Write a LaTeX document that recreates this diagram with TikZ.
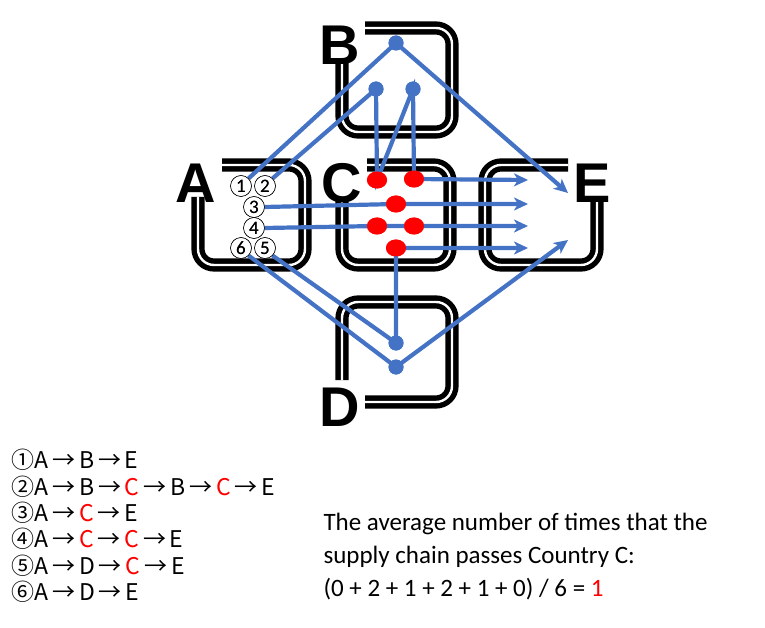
\documentclass[tikz,border=0pt]{standalone}
\usepackage{fontspec}
\setmainfont{Carlito}
\newfontfamily\jpfont{Noto Sans CJK JP}
\newfontfamily\bigfont{Liberation Sans}
\usetikzlibrary{arrows.meta,shapes.geometric}
\definecolor{route}{RGB}{68,114,196}
\newcommand{\ra}{\,→\,}
\newcommand{\rc}{\textcolor{red}{C}}
\begin{document}
\begin{tikzpicture}[x=1pt,y=-1pt,
  frame/.style={double=white,draw=black,line width=5.4pt,double distance=2.4pt,rounded corners=16pt},
  country/.style={font=\bigfont\bfseries\fontsize{56}{56}\selectfont},
  route/.style={draw=route,line width=4.2pt},
  flow/.style={route,-{Stealth[length=14pt,width=13pt,inset=4pt]}},
  stop/.style={circle,fill=route,inner sep=0pt,minimum size=15pt},
  hub/.style={ellipse,fill=red,inner sep=0pt,minimum width=20pt,minimum height=17pt},
  tag/.style={circle,draw,thin,fill=white,inner sep=0pt,minimum size=21pt,font=\fontsize{19}{19}\selectfont},
  legend/.style={anchor=west,font=\jpfont\fontsize{23}{23}\selectfont}]
\useasboundingbox (0,0) rectangle (765,628);
% country frames
\draw[frame] (222,165) -- (305,165) -- (305,265) -- (198,265) -- (198,197);
\draw[frame] (367,165) -- (450,165) -- (450,265) -- (342,265) -- (342,198);
\draw[frame] (568,165) -- (485,165) -- (485,265) -- (597,265) -- (597,198);
\draw[frame] (365,28) -- (452,28) -- (452,132) -- (342,132) -- (342,63);
\draw[frame] (342,380) -- (342,302) -- (452,302) -- (452,402) -- (365,402);
\node[country] (labA) at (196,183) {A};
\node[country] (labB) at (340,45) {B};
\node[country] (labC) at (342,183) {C};
\node[country] (labD) at (340,407) {D};
\node[country] (labE) at (592,183) {E};
% stops
\node[stop] (b0) at (396,43) {};
\node[stop] (b1) at (376,89) {};
\node[stop] (b2) at (413,89) {};
\node[stop] (d1) at (396,343) {};
\node[stop] (d2) at (396,367) {};
\node[hub] (c1) at (377,180) {};
\node[hub] (c2) at (414,179) {};
\node[hub] (c3) at (396,204) {};
\node[hub] (c4) at (377,226) {};
\node[hub] (c5) at (414,226) {};
\node[hub] (c6) at (396,248) {};
\coordinate (e1) at (528,180);
\coordinate (e3) at (528,204);
\coordinate (e4) at (528,226);
\coordinate (e5) at (528,248);
\coordinate (eu) at (568,193);
\coordinate (ed) at (568,240);
% routes
\node[tag] (r1) at (241,186) {1};
\node[tag] (r2) at (265,186) {2};
\node[tag] (r3) at (254,207) {3};
\node[tag] (r4) at (254,228) {4};
\node[tag] (r6) at (241,248) {6};
\node[tag] (r5) at (265,248) {5};
\draw[flow] (r1.north east) -- (b0.center) -- (eu);
\draw[flow] (r2.north east) -- (b1.center) -- (c1.center) -- (b2.center) -- (c2.center) -- (e1);
\draw[flow] (r3.east) -- (c3.center) -- (e3);
\draw[flow] (r4.east) -- (c4.center) -- (c5.center) -- (e4);
\draw[flow] (r5.south east) -- (d1.center) -- (c6.center) -- (e5);
\draw[flow] (r6.south east) -- (d2.center) -- (ed);
\foreach \s in {b0,b1,b2,d1,d2} \node[stop] at (\s) {};
\foreach \h in {c1,c2,c3,c4,c5,c6} \node[hub] at (\h) {};
\foreach \r/\t in {r1/1,r2/2,r3/3,r4/4,r5/5,r6/6} \node[tag,fill=none] at (\r) {\t};
% legend
\node[legend] (l1) at (8,460) {①A\ra B\ra E};
\node[legend] (l2) at (8,487) {②A\ra B\ra\rc\ra B\ra\rc\ra E};
\node[legend] (l3) at (8,513) {③A\ra\rc\ra E};
\node[legend] (l4) at (8,539) {④A\ra\rc\ra\rc\ra E};
\node[legend] (l5) at (8,566) {⑤A\ra D\ra\rc\ra E};
\node[legend] (l6) at (8,592) {⑥A\ra D\ra E};
\node[anchor=west,align=left,font=\fontsize{25}{33}\selectfont] (note) at (320,557)
  {The average number of times that the\\supply chain passes Country C:\\(0 + 2 + 1 + 2 + 1 + 0) / 6 = \textcolor{red}{1}};
\end{tikzpicture}
\end{document}
